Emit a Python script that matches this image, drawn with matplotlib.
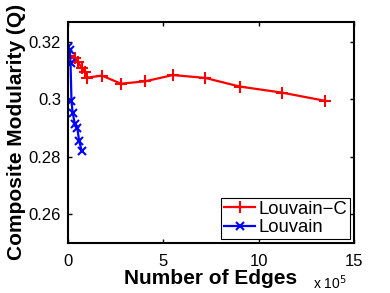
import matplotlib
matplotlib.use('Agg')
import matplotlib.pyplot as plt

# number of edges (x 10^5) and composite modularity
edges_louvain_c = [0.02, 0.37, 0.52, 0.73, 0.89, 1.0, 1.78, 2.78, 4.04, 5.5, 7.2, 9.0, 11.2, 13.5]
q_louvain_c = [0.3150, 0.3145, 0.3131, 0.3110, 0.3097, 0.3076, 0.3083, 0.3055, 0.3063, 0.3085, 0.3075, 0.3045, 0.3024, 0.2995]

edges_louvain = [0.02, 0.10, 0.14, 0.19, 0.25, 0.37, 0.49, 0.59, 0.72]
q_louvain = [0.3184, 0.3172, 0.3127, 0.2994, 0.2954, 0.2914, 0.2902, 0.2856, 0.2822]

plt.rcParams['font.family'] = ['Liberation Sans', 'DejaVu Sans']

fig = plt.figure(figsize=(3.9, 2.93), dpi=100)
ax = fig.add_axes([0.174, 0.171, 0.734, 0.754])

ax.plot(edges_louvain_c, q_louvain_c, color='red', marker='+', markersize=9,
        markeredgewidth=1.5, linewidth=1.6, label='Louvain\u2212C')
ax.plot(edges_louvain, q_louvain, color='blue', marker='x', markersize=6,
        markeredgewidth=1.5, linewidth=1.6, label='Louvain')

ax.set_xlim(0, 15)
ax.set_ylim(0.25, 0.327)
ax.set_xticks([0, 5, 10, 15])
ax.set_yticks([0.26, 0.28, 0.30, 0.32])
ax.set_yticklabels(['0.26', '0.28', '0.3', '0.32'])
ax.tick_params(direction='in', top=True, right=True, length=3, width=1, labelsize=12)
ax.tick_params(axis='x', pad=8)
ax.tick_params(axis='y', pad=5)
for s in ax.spines.values():
    s.set_linewidth(1.5)

ax.set_xlabel('Number of Edges', fontsize=15, fontweight='bold', labelpad=0)
ax.set_ylabel('Composite Modularity (Q)', fontsize=15, fontweight='bold', labelpad=2)
fig.text(347 / 390, 1 / 293, 'x 10$^5$', fontsize=10, ha='right', va='bottom')

leg = ax.legend(loc='lower right', fontsize=13.3, fancybox=False, framealpha=1,
                edgecolor='black', handlelength=1.7, handletextpad=0.2,
                borderaxespad=0.2, borderpad=0.15, labelspacing=0.1)
leg.get_frame().set_linewidth(0.8)

fig.savefig('out.png', dpi=100)
